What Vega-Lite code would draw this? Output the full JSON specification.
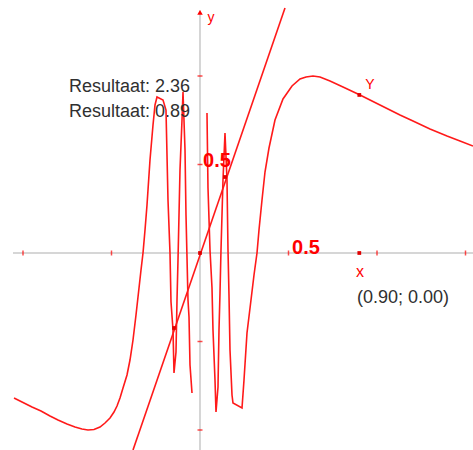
{
  "$schema": "https://vega.github.io/schema/vega-lite/v6.json",
  "width": 473,
  "height": 450,
  "padding": 0,
  "autosize": {"type": "fit", "contains": "padding"},
  "background": "white",
  "config": {"view": {"stroke": null}},
  "datasets": {
    "curve": [
      {"piece": "L", "x": -1.0508, "y": -0.8192},
      {"piece": "L", "x": -1.0056, "y": -0.8418},
      {"piece": "L", "x": -0.9492, "y": -0.8701},
      {"piece": "L", "x": -0.8983, "y": -0.8927},
      {"piece": "L", "x": -0.8475, "y": -0.9209},
      {"piece": "L", "x": -0.8023, "y": -0.9435},
      {"piece": "L", "x": -0.7514, "y": -0.9661},
      {"piece": "L", "x": -0.7062, "y": -0.9831},
      {"piece": "L", "x": -0.6667, "y": -0.9944},
      {"piece": "L", "x": -0.6328, "y": -1.0},
      {"piece": "L", "x": -0.5989, "y": -0.9972},
      {"piece": "L", "x": -0.565, "y": -0.9831},
      {"piece": "L", "x": -0.5367, "y": -0.9605},
      {"piece": "L", "x": -0.5085, "y": -0.9322},
      {"piece": "L", "x": -0.4859, "y": -0.8983},
      {"piece": "L", "x": -0.4689, "y": -0.8644},
      {"piece": "L", "x": -0.452, "y": -0.8192},
      {"piece": "L", "x": -0.435, "y": -0.7627},
      {"piece": "L", "x": -0.4124, "y": -0.6893},
      {"piece": "L", "x": -0.3955, "y": -0.6045},
      {"piece": "L", "x": -0.3785, "y": -0.4915},
      {"piece": "L", "x": -0.3616, "y": -0.3503},
      {"piece": "L", "x": -0.3446, "y": -0.1977},
      {"piece": "L", "x": -0.3333, "y": -0.096},
      {"piece": "L", "x": -0.322, "y": 0.0},
      {"piece": "L", "x": -0.3107, "y": 0.1299},
      {"piece": "L", "x": -0.2994, "y": 0.2712},
      {"piece": "L", "x": -0.2825, "y": 0.5254},
      {"piece": "L", "x": -0.2655, "y": 0.7232},
      {"piece": "L", "x": -0.2542, "y": 0.8362},
      {"piece": "L", "x": -0.2429, "y": 0.8814},
      {"piece": "L", "x": -0.209, "y": 0.8644},
      {"piece": "L", "x": -0.1921, "y": 0.8079},
      {"piece": "L", "x": -0.1808, "y": 0.2994},
      {"piece": "L", "x": -0.1695, "y": 0.0},
      {"piece": "L", "x": -0.1638, "y": -0.2768},
      {"piece": "L", "x": -0.1525, "y": -0.435},
      {"piece": "L", "x": -0.1469, "y": -0.678},
      {"piece": "L", "x": -0.1356, "y": -0.5593},
      {"piece": "L", "x": -0.1299, "y": -0.2655},
      {"piece": "L", "x": -0.1243, "y": -0.0395},
      {"piece": "L", "x": -0.113, "y": 0.4689},
      {"piece": "L", "x": -0.1017, "y": 0.7514},
      {"piece": "L", "x": -0.096, "y": 0.9096},
      {"piece": "L", "x": -0.0847, "y": 0.5819},
      {"piece": "L", "x": -0.0791, "y": 0.2147},
      {"piece": "L", "x": -0.0678, "y": -0.2655},
      {"piece": "L", "x": -0.0621, "y": -0.3616},
      {"piece": "L", "x": -0.0565, "y": -0.6328},
      {"piece": "L", "x": -0.0452, "y": -0.791},
      {"piece": "R", "x": 0.0395, "y": 0.791},
      {"piece": "R", "x": 0.0452, "y": 0.3672},
      {"piece": "R", "x": 0.0565, "y": 0.0169},
      {"piece": "R", "x": 0.0678, "y": -0.1977},
      {"piece": "R", "x": 0.0734, "y": -0.435},
      {"piece": "R", "x": 0.0847, "y": -0.7175},
      {"piece": "R", "x": 0.0904, "y": -0.8983},
      {"piece": "R", "x": 0.1017, "y": -0.7571},
      {"piece": "R", "x": 0.1073, "y": -0.435},
      {"piece": "R", "x": 0.113, "y": -0.226},
      {"piece": "R", "x": 0.1186, "y": 0.0169},
      {"piece": "R", "x": 0.1299, "y": 0.4124},
      {"piece": "R", "x": 0.1412, "y": 0.678},
      {"piece": "R", "x": 0.1525, "y": 0.4124},
      {"piece": "R", "x": 0.1582, "y": 0.0169},
      {"piece": "R", "x": 0.1638, "y": -0.2373},
      {"piece": "R", "x": 0.1695, "y": -0.548},
      {"piece": "R", "x": 0.1808, "y": -0.8023},
      {"piece": "R", "x": 0.1864, "y": -0.8475},
      {"piece": "R", "x": 0.2373, "y": -0.8757},
      {"piece": "R", "x": 0.2486, "y": -0.7175},
      {"piece": "R", "x": 0.2655, "y": -0.452},
      {"piece": "R", "x": 0.2881, "y": -0.2655},
      {"piece": "R", "x": 0.3051, "y": -0.1243},
      {"piece": "R", "x": 0.322, "y": 0.0},
      {"piece": "R", "x": 0.3333, "y": 0.1299},
      {"piece": "R", "x": 0.3503, "y": 0.2994},
      {"piece": "R", "x": 0.3672, "y": 0.4576},
      {"piece": "R", "x": 0.3898, "y": 0.5932},
      {"piece": "R", "x": 0.4237, "y": 0.7514},
      {"piece": "R", "x": 0.4689, "y": 0.8701},
      {"piece": "R", "x": 0.5198, "y": 0.9435},
      {"piece": "R", "x": 0.565, "y": 0.9831},
      {"piece": "R", "x": 0.5989, "y": 0.9944},
      {"piece": "R", "x": 0.6384, "y": 1.0},
      {"piece": "R", "x": 0.678, "y": 0.9944},
      {"piece": "R", "x": 0.7345, "y": 0.9718},
      {"piece": "R", "x": 0.8079, "y": 0.9379},
      {"piece": "R", "x": 0.904, "y": 0.8927},
      {"piece": "R", "x": 1.0169, "y": 0.8362},
      {"piece": "R", "x": 1.1299, "y": 0.7797},
      {"piece": "R", "x": 1.2034, "y": 0.7458},
      {"piece": "R", "x": 1.2994, "y": 0.7006},
      {"piece": "R", "x": 1.3955, "y": 0.661},
      {"piece": "R", "x": 1.4689, "y": 0.6328},
      {"piece": "R", "x": 1.5424, "y": 0.6045}
    ],
    "straight": [
      {"x": -0.3785, "y": -1.113},
      {"x": 0.4802, "y": 1.3842}
    ],
    "xaxis": [{"x": -1.0565, "x2": 1.6, "y": 0}],
    "yaxis": [{"x": 0, "y": -1.2, "y2": 1.37}],
    "arrow": [{"x": 0, "y": 1.36}],
    "xticks": [
      {"x": -1.0, "y": 0}, {"x": -0.5, "y": 0}, {"x": 0.5, "y": 0}, {"x": 1.0, "y": 0}, {"x": 1.5, "y": 0}
    ],
    "yticks": [
      {"x": 0, "y": 1.0}, {"x": 0, "y": 0.5}, {"x": 0, "y": -0.5}, {"x": 0, "y": -1.0}
    ],
    "dots": [
      {"x": 0.9, "y": 0},
      {"x": 0.9, "y": 0.893},
      {"x": 0, "y": 0},
      {"x": -0.1469, "y": -0.4237},
      {"x": 0.1412, "y": 0.4294}
    ],
    "results": [
      {"x": -0.7401, "y": 0.9096, "label": "Resultaat: 2.36"},
      {"x": -0.7401, "y": 0.7684, "label": "Resultaat: 0.89"},
      {"x": 0.887, "y": -0.2825, "label": "(0.90; 0.00)"}
    ],
    "unitlabels": [
      {"x": 0.017, "y": 0.4859, "label": "0.5"},
      {"x": 0.5198, "y": -0.0056, "label": "0.5"}
    ],
    "smalllabels": [
      {"x": 0.0621, "y": 1.305, "label": "y"},
      {"x": 0.9605, "y": 0.9266, "label": "Y"}
    ],
    "xlabel": [{"x": 0.904, "y": -0.1356, "label": "x"}]
  },
  "encoding": {
    "x": {"field": "x", "type": "quantitative", "axis": null,
          "scale": {"domain": [-1.12994, 1.54237], "nice": false, "zero": false}},
    "y": {"field": "y", "type": "quantitative", "axis": null,
          "scale": {"domain": [-1.11299, 1.42938], "nice": false, "zero": false}}
  },
  "layer": [
    {"data": {"name": "xaxis"}, "mark": {"type": "rule", "color": "#c8c8c8", "strokeWidth": 1.5, "clip": true},
     "encoding": {"x2": {"field": "x2"}}},
    {"data": {"name": "yaxis"}, "mark": {"type": "rule", "color": "#c8c8c8", "strokeWidth": 1.5, "clip": true},
     "encoding": {"y2": {"field": "y2"}}},
    {"data": {"name": "xticks"}, "mark": {"type": "tick", "orient": "vertical", "color": "#ff0000", "size": 5, "thickness": 1.5}},
    {"data": {"name": "yticks"}, "mark": {"type": "tick", "orient": "horizontal", "color": "#ff0000", "size": 5, "thickness": 1.5}},
    {"data": {"name": "arrow"}, "mark": {"type": "point", "shape": "triangle-up", "filled": true, "color": "#ff0000", "size": 30, "opacity": 1}},
    {"data": {"name": "curve"}, "mark": {"type": "line", "color": "#ff1a1a", "strokeWidth": 1.6, "clip": true},
     "encoding": {"detail": {"field": "piece"}}},
    {"data": {"name": "straight"}, "mark": {"type": "line", "color": "#ff1a1a", "strokeWidth": 1.6, "clip": true},
     "encoding": {}},
    {"data": {"name": "dots"}, "mark": {"type": "square", "color": "#e00000", "size": 14, "opacity": 1}},
    {"data": {"name": "results"}, "mark": {"type": "text", "align": "left", "baseline": "alphabetic", "font": "Liberation Sans", "fontSize": 18, "color": "#303030"},
     "encoding": {"text": {"field": "label"}}},
    {"data": {"name": "unitlabels"}, "mark": {"type": "text", "align": "left", "baseline": "alphabetic", "font": "Liberation Sans", "fontSize": 20, "fontWeight": "bold", "color": "#ff0000"},
     "encoding": {"text": {"field": "label"}}},
    {"data": {"name": "smalllabels"}, "mark": {"type": "text", "align": "center", "baseline": "alphabetic", "font": "Liberation Sans", "fontSize": 14, "color": "#ff0000"},
     "encoding": {"text": {"field": "label"}}},
    {"data": {"name": "xlabel"}, "mark": {"type": "text", "align": "center", "baseline": "alphabetic", "font": "Liberation Sans", "fontSize": 16, "color": "#ff0000"},
     "encoding": {"text": {"field": "label"}}}
  ]
}
